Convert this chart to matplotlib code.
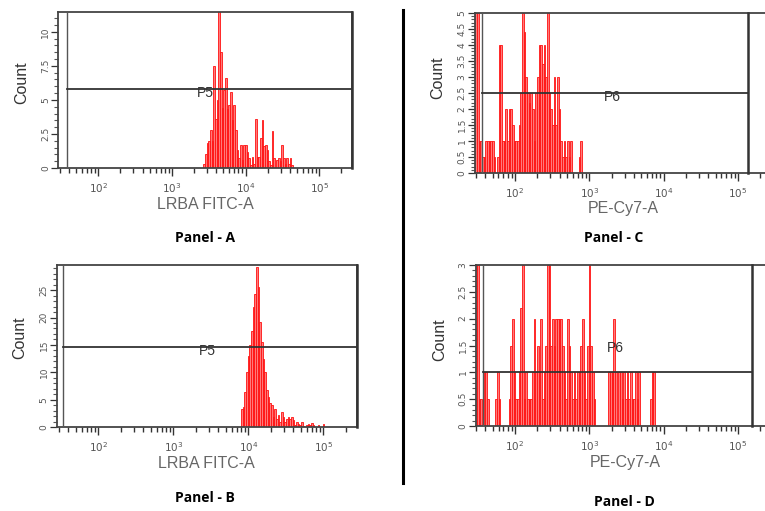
import numpy as np
import matplotlib.pyplot as plt
from matplotlib.lines import Line2D
from matplotlib.ticker import LogLocator, NullFormatter, MultipleLocator, FormatStrFormatter

# LRBA FITC-A histogram, sample 1 (log10 of first bin edge, bin width in decades, counts)
a_start, a_step = 3.425, 0.0226
a_counts = [0.3, 1.0, 1.8, 2.0, 2.8, 2.0, 7.5, 3.6, 5.0, 11.5, 8.5, 4.4, 5.7, 6.6,
            4.3, 4.6, 5.6, 3.5, 4.6, 2.8, 1.3, 0.7, 1.7, 0.6, 1.7, 1.7, 1.2, 0.7,
            0.2, 0.8, 0.3, 3.6, 0.8, 0.8, 2.2, 3.5, 1.6, 1.7, 1.3, 0.5, 0.2, 2.7,
            0.7, 0.0, 0.6, 0.7, 0.5, 1.7, 0.7, 0.3, 0.7, 0.3, 0.7, 0.2]

# LRBA FITC-A histogram, sample 2
b_start, b_step = 3.903, 0.0222
b_counts = [3.3, 3.6, 6.4, 10, 13, 14.9, 17.6, 22, 24.3, 29.2, 25.5, 19.2, 15.5,
            12.5, 10, 6.7, 5.5, 4.3, 4, 1.8, 3.3, 1.5, 2.1, 0.9, 2.7, 1.8, 0.9,
            1.5, 1.8, 1.5, 1.8, 1.2, 0.3, 0.9, 0.6, 0.3, 0.9, 0.2, 0, 0.4, 0.6,
            0.3, 0.8, 0.4, 0, 0, 0.3, 0, 0, 0.5]

# PE-Cy7-A histogram, sample 1
c_start, c_step = 1.466, 0.0224
c_counts = [5, 5, 1, 1, 0.5, 0.5, 1, 1, 1, 1, 1, 0.5, 0, 0.5, 4, 4, 1, 1, 2, 1,
            2, 2, 1.5, 1, 1, 1, 1.5, 2.5, 5, 4.4, 3, 2.5, 2.2, 2.5, 2, 1, 2.5, 3,
            4, 4, 3.4, 4, 3, 5, 2.5, 2, 1.5, 3, 1.5, 3, 2, 1, 0.5, 1, 0.5, 1,
            0.5, 1, 0, 0, 0, 0, 0.5, 1]

# PE-Cy7-A histogram, sample 2
d_start, d_step = 1.466, 0.0224
d_counts = [3, 3, 0.5, 0.5, 0, 1, 1, 0.5, 0, 0, 0,
            0, 0.5, 1, 0.5, 0, 0, 0, 0, 0, 0.5, 1.5,
            2, 1, 0.5, 0.5, 1, 2.2, 3, 0.5, 1, 0.5, 0.5,
            0.5, 1, 2, 1, 1.5, 1, 2, 0.5, 1, 1.5, 3,
            3, 1.5, 2, 1.5, 2, 2, 2, 2, 1.5, 1, 0.5,
            2, 1.5, 1, 0.5, 1, 0.5, 1, 1, 1.5, 2, 1,
            0.5, 1.5, 3, 1.5, 1, 0.5, 0, 0, 0, 0, 0,
            0, 0, 0, 1, 1, 1, 2, 1, 0, 1, 1,
            0.5, 1, 0.5, 1, 0.5, 1, 0.5, 0.5, 1, 0.5, 1,
            0, 0, 0, 0, 0, 0, 0.5, 1, 1]

# gates: (log10 left, log10 right, count level), names
gates = [(1.575, 5.44, 5.8), (1.529, 5.45, 14.65), (1.556, 5.135, 2.5), (1.57, 5.19, 1.0)]
gate_names = ['P5', 'P5', 'P6', 'P6']
x_labels = ['LRBA FITC-A', 'LRBA FITC-A', 'PE-Cy7-A', 'PE-Cy7-A']
panel_titles = ['Panel - A', 'Panel - B', 'Panel - C', 'Panel - D']

fig = plt.figure(figsize=(7.65, 5.11), dpi=100)

axes_rects = [[0.0762, 0.6712, 0.3835, 0.3053],
              [0.0745, 0.1644, 0.3922, 0.3170],
              [0.6209, 0.6614, 0.3830, 0.3131],
              [0.6222, 0.1663, 0.3817, 0.3151]]
x_limits = [(1.457, 5.44), (1.45, 5.45), (1.462, 5.404), (1.475, 5.404)]
y_limits = [11.45, 29.6, 5.0, 3.0]
y_major = [2.5, 5, 0.5, 0.5]
y_minor = [0.5, 1, 0.1, 0.1]
ylabel_xy = [(-0.124, 0.545), (-0.123, 0.549), (-0.126, 0.594), (-0.123, 0.534)]
xlabel_xy = [(0.50, -0.237), (0.497, -0.228), (0.505, -0.222), (0.51, -0.224)]
gate_text_xy = [(0.50, 0.48), (0.50, 0.469), (0.468, 0.475), (0.476, 0.484)]
title_xy = [(205, 238), (205, 498), (614, 238), (624, 502)]

hists = [(a_start, a_step, a_counts), (b_start, b_step, b_counts),
         (c_start, c_step, c_counts), (d_start, d_step, d_counts)]

gray = '#555555'
for i, (start, step, counts) in enumerate(hists):
    ax = fig.add_axes(axes_rects[i])
    counts = np.asarray(counts, dtype=float)
    edges = 10 ** (start + step * np.arange(len(counts) + 1))
    ax.bar(edges[:-1], counts, width=np.diff(edges), align='edge',
           facecolor='#ff7a7a', edgecolor='#ff1010', linewidth=0.6, zorder=2)

    ax.set_xscale('log')
    ax.set_xlim(10 ** x_limits[i][0], 10 ** x_limits[i][1])
    ax.set_ylim(0, y_limits[i])

    ax.xaxis.set_major_locator(LogLocator(base=10, numticks=10))
    ax.xaxis.set_minor_locator(LogLocator(base=10, subs=np.arange(2, 10), numticks=20))
    ax.xaxis.set_minor_formatter(NullFormatter())
    ax.yaxis.set_major_locator(MultipleLocator(y_major[i]))
    ax.yaxis.set_minor_locator(MultipleLocator(y_minor[i]))
    ax.yaxis.set_major_formatter(FormatStrFormatter('%g'))

    ax.tick_params(axis='x', which='major', direction='out', length=6, width=1.0,
                   color='#333333', labelsize=7.5, labelcolor=gray, pad=3.5)
    ax.tick_params(axis='x', which='minor', direction='out', length=3.5, width=1.0,
                   color='#333333')
    ax.tick_params(axis='y', which='major', direction='out', length=5, width=0.9,
                   color='#333333', labelsize=6.5, labelcolor=gray, pad=1,
                   labelrotation=90)
    ax.tick_params(axis='y', which='minor', direction='out', length=3, width=0.8,
                   color='#555555')
    for lab in ax.get_yticklabels():
        lab.set_verticalalignment('center')

    for sp in ax.spines.values():
        sp.set_color('#444444')
        sp.set_linewidth(1.3)

    # gate bracket
    g_lo, g_hi, g_y = gates[i]
    ax.axvline(10 ** g_lo, color='#555555', lw=1.0, zorder=3)
    ax.axvline(10 ** g_hi, color='#333333', lw=1.8, zorder=3, clip_on=False)
    ax.plot([10 ** g_lo, 10 ** g_hi], [g_y, g_y], color='#333333', lw=1.3, zorder=3)
    ax.text(*gate_text_xy[i], gate_names[i], transform=ax.transAxes, ha='center',
            va='center', fontsize=10, color='#333333', family='Liberation Sans', zorder=4)

    ax.set_xlabel(x_labels[i], fontsize=11.5, color='#666666', family='Liberation Sans')
    ax.xaxis.set_label_coords(*xlabel_xy[i])
    ax.xaxis.label.set_verticalalignment('center')
    ax.set_ylabel('Count', fontsize=11.5, color='#333333', family='Liberation Sans')
    ax.yaxis.set_label_coords(*ylabel_xy[i])
    ax.yaxis.label.set_verticalalignment('center')

    tx, ty = title_xy[i]
    fig.text(tx / 765, 1 - ty / 511, panel_titles[i], ha='center', va='center',
             fontsize=10, fontweight='bold', family='Open Sans', color='black')

# divider between the two marker columns
fig.add_artist(Line2D([403 / 765, 403 / 765], [1 - 10 / 511, 1 - 483 / 511],
                      color='black', lw=2.2))

fig.savefig('out.png', dpi=100)
